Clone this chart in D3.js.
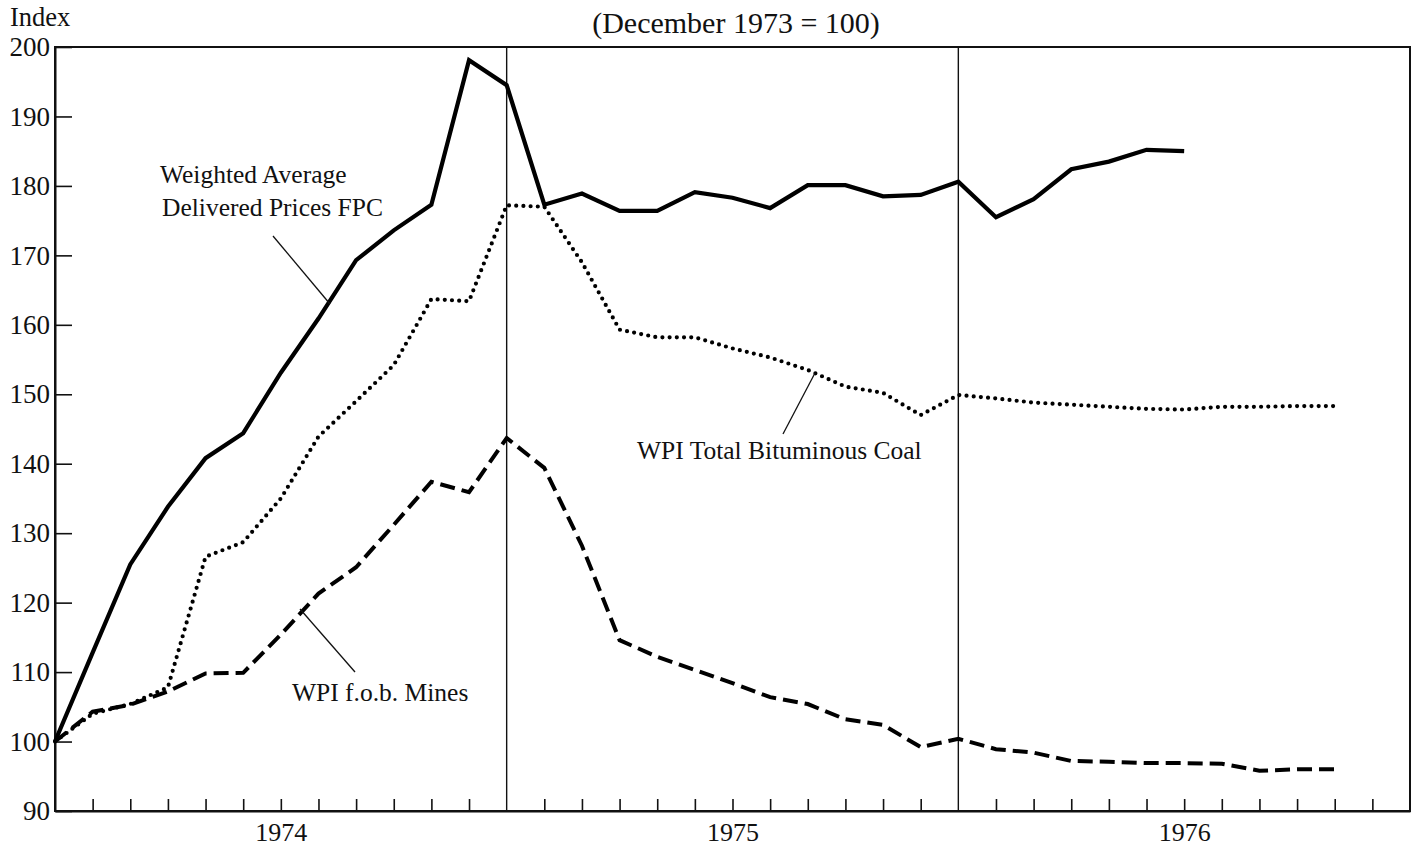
<!DOCTYPE html>
<html>
<head>
<meta charset="utf-8">
<script src="https://cdn.jsdelivr.net/npm/d3@7"></script>
<style>
  html, body { margin: 0; padding: 0; background: #fff; }
  svg { display: block; }
  text { font-family: "Liberation Serif", "Times New Roman", serif; fill: #111; }
</style>
</head>
<body>
<svg id="chart" width="1421" height="852"></svg>
<script>
// Months indexed from December 1973 (0) to December 1976 (36)
const fpcDelivered = [100, 112.8, 125.5, 133.8, 140.8, 144.4, 153.1, 160.9, 169.3, 173.6, 177.3, 198.1, 194.5,
  177.3, 178.9, 176.4, 176.4, 179.1, 178.3, 176.8, 180.1, 180.1, 178.5, 178.7, 180.6,
  175.5, 178.1, 182.4, 183.5, 185.2, 185.0];
const wpiBituminous = [100, 104.0, 105.4, 107.8, 126.6, 128.7, 135.0, 143.9, 149.0, 154.2, 163.7, 163.4, 177.2,
  177.0, 169.0, 159.3, 158.2, 158.2, 156.6, 155.3, 153.5, 151.1, 150.2, 147.0, 149.9,
  149.4, 148.8, 148.5, 148.2, 147.9, 147.8, 148.2, 148.2, 148.3, 148.3];
const wpiMines = [100, 104.3, 105.3, 107.2, 109.8, 109.9, 115.4, 121.3, 125.1, 131.2, 137.4, 135.9, 143.7,
  139.4, 128.2, 114.6, 112.2, 110.3, 108.4, 106.4, 105.4, 103.2, 102.4, 99.2, 100.4,
  98.9, 98.4, 97.2, 97.1, 96.9, 96.9, 96.8, 95.8, 96.0, 96.0];
const yTicks = [90, 100, 110, 120, 130, 140, 150, 160, 170, 180, 190, 200];
const yearLabels = ["1974", "1975", "1976"];
const yearCenters = [6, 18, 30];
const yearDividers = [12, 24];
const monthCount = 36;

const svg = d3.select("#chart");
const plotL = 55, plotR = 1410, plotT = 47, plotB = 811;

const x = d3.scaleLinear().domain([0, monthCount]).range([plotL, plotR]);
const y = d3.scaleLinear().domain([90, 200]).range([plotB, plotT]);

// Title and axis label
svg.append("text").attr("x", 736).attr("y", 22).attr("dominant-baseline", "central")
  .attr("text-anchor", "middle").style("font-size", "30px").text("(December 1973 = 100)");
svg.append("text").attr("x", 10).attr("y", 17).attr("dominant-baseline", "central")
  .style("font-size", "26.5px").text("Index");

// Frame
svg.append("rect").attr("x", plotL).attr("y", plotT).attr("width", plotR - plotL).attr("height", plotB - plotT)
  .attr("fill", "none").attr("stroke", "#111").attr("stroke-width", 2);

// Year dividers
svg.selectAll("line.div").data(yearDividers).enter().append("line")
  .attr("class", "div")
  .attr("x1", d => x(d)).attr("x2", d => x(d))
  .attr("y1", plotT).attr("y2", plotB)
  .attr("stroke", "#111").attr("stroke-width", 1.4);

// Y axis
const yAxis = d3.axisLeft(y).tickValues(yTicks).tickSize(-17).tickSizeOuter(0).tickPadding(5);
const gy = svg.append("g").attr("transform", `translate(${plotL},0)`).call(yAxis);
gy.select(".domain").attr("stroke", "#111").attr("stroke-width", 2);
gy.selectAll(".tick line").attr("stroke", "#111").attr("stroke-width", 1.6);
gy.selectAll(".tick text").style("font-size", "27px").style("font-family", "Liberation Serif, serif").attr("fill", "#111");

// X axis month ticks
const monthTicks = d3.range(1, monthCount).filter(m => !yearDividers.includes(m));
const xAxis = d3.axisBottom(x).tickValues(monthTicks).tickSize(-12).tickSizeOuter(0).tickFormat("");
const gx = svg.append("g").attr("transform", `translate(0,${plotB})`).call(xAxis);
gx.select(".domain").attr("stroke", "#111").attr("stroke-width", 2.2);
gx.selectAll(".tick line").attr("stroke", "#111").attr("stroke-width", 1.6);

// Year labels
const xYear = d3.axisBottom(x).tickValues(yearCenters).tickSize(0).tickPadding(12)
  .tickFormat((d, i) => yearLabels[i]);
const gyear = svg.append("g").attr("transform", `translate(0,${plotB})`).call(xYear);
gyear.select(".domain").remove();
gyear.selectAll(".tick text").style("font-size", "26px").style("font-family", "Liberation Serif, serif").attr("fill", "#111");

// Lines
const line = d3.line().x((d, i) => x(i)).y(d => y(d));
svg.append("path").datum(fpcDelivered).attr("d", line)
  .attr("fill", "none").attr("stroke", "#000").attr("stroke-width", 4.2).attr("stroke-linejoin", "miter");
svg.append("path").datum(wpiBituminous).attr("d", line)
  .attr("fill", "none").attr("stroke", "#000").attr("stroke-width", 4.2)
  .attr("stroke-linecap", "round").attr("stroke-dasharray", "0 7.2");
svg.append("path").datum(wpiMines).attr("d", line)
  .attr("fill", "none").attr("stroke", "#000").attr("stroke-width", 4)
  .attr("stroke-dasharray", "15 7");

// Annotations
const ann = svg.append("g").style("font-size", "25.5px");
ann.append("text").attr("x", 160).attr("y", 174).attr("dominant-baseline", "central").text("Weighted Average");
ann.append("text").attr("x", 162).attr("y", 207).attr("dominant-baseline", "central").text("Delivered Prices FPC");
ann.append("text").attr("x", 637).attr("y", 450).attr("dominant-baseline", "central").text("WPI Total Bituminous Coal");
ann.append("text").attr("x", 292).attr("y", 692).attr("dominant-baseline", "central").text("WPI f.o.b. Mines");

const leaders = [
  [273, 236, 330, 304],
  [783, 434, 815, 373],
  [355, 672, 300, 609]
];
svg.selectAll("line.leader").data(leaders).enter().append("line")
  .attr("class", "leader")
  .attr("x1", d => d[0]).attr("y1", d => d[1]).attr("x2", d => d[2]).attr("y2", d => d[3])
  .attr("stroke", "#111").attr("stroke-width", 1.3);
</script>
</body>
</html>
